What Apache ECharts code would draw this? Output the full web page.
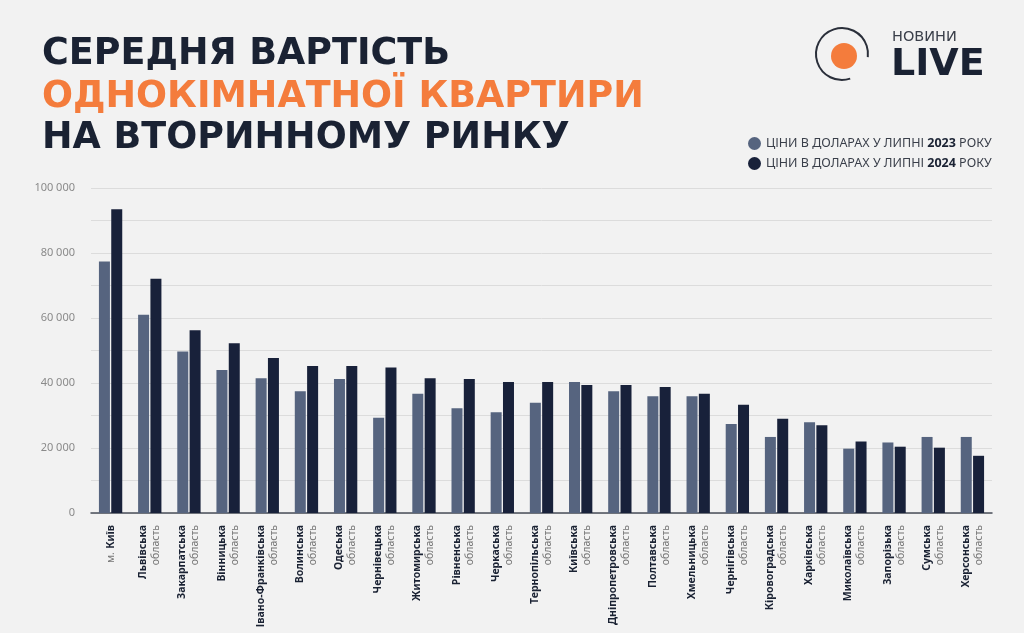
<!DOCTYPE html>
<html>
<head>
<meta charset="utf-8">
<script src="https://cdn.jsdelivr.net/npm/echarts@6/dist/echarts.min.js"></script>
<style>
    html, body { margin: 0; padding: 0; background: #f2f2f2; }
    #chart { width: 1024px; height: 633px; }
</style>
</head>
<body>
<div id="chart"></div>
<script>
// Дані
const regions = [
    'м. Київ', 'Львівська область', 'Закарпатська область', 'Вінницька область',
    'Івано-Франківська область', 'Волинська область', 'Одеська область', 'Чернівецька область',
    'Житомирська область', 'Рівненська область', 'Черкаська область', 'Тернопільська область',
    'Київська область', 'Дніпропетровська область', 'Полтавська область', 'Хмельницька область',
    'Чернігівська область', 'Кіровоградська область', 'Харківська область', 'Миколаївська область',
    'Запорізька область', 'Сумська область', 'Херсонська область'
];
const prices2023 = [77400, 61000, 49700, 44000, 41500, 37500, 41200, 29300, 36700, 32200, 31000, 33900,
    40300, 37500, 35900, 35900, 27400, 23400, 27900, 19800, 21700, 23400, 23400];
const prices2024 = [93500, 72100, 56200, 52200, 47700, 45200, 45200, 44800, 41500, 41200, 40300, 40300,
    39400, 39400, 38800, 36700, 33300, 29000, 27000, 22000, 20400, 20100, 17600];
const yTicks = [0, 20000, 40000, 60000, 80000, 100000];
const name2023 = 'ЦІНИ В ДОЛАРАХ У ЛИПНІ 2023 РОКУ';
const name2024 = 'ЦІНИ В ДОЛАРАХ У ЛИПНІ 2024 РОКУ';

const dark = '#1a2233';
const titleFont = 'DejaVu Sans';

let chart = echarts.init(document.getElementById('chart'));
let option = {
    backgroundColor: '#f2f2f2',
    title: [
        { text: 'СЕРЕДНЯ ВАРТІСТЬ', left: 37, top: 31,
          textStyle: { fontFamily: titleFont, fontWeight: 'bold', fontSize: 36.5, color: dark } },
        { text: 'ОДНОКІМНАТНОЇ КВАРТИРИ', left: 37, top: 74,
          textStyle: { fontFamily: titleFont, fontWeight: 'bold', fontSize: 36.5, color: '#f47c3c' } },
        { text: 'НА ВТОРИННОМУ РИНКУ', left: 37, top: 115,
          textStyle: { fontFamily: titleFont, fontWeight: 'bold', fontSize: 36.5, color: dark } }
    ],
    legend: {
        orient: 'vertical',
        left: 743,
        top: 132,
        icon: 'circle',
        itemWidth: 13,
        itemHeight: 13,
        itemGap: 7,
        data: [name2023, name2024],
        formatter: name => name.replace(/(\d{4})/, '{b|$1}'),
        textStyle: {
            fontFamily: 'Noto Sans', fontSize: 12.5, color: '#3a3f4a',
            rich: { b: { fontFamily: 'Noto Sans', fontSize: 12.5, fontWeight: 'bold', color: dark } }
        }
    },
    grid: { left: 91, right: 32, top: 188, bottom: 120 },
    xAxis: {
        type: 'category',
        data: regions,
        axisLine: { lineStyle: { color: '#4a4f5a', width: 1.5 } },
        axisTick: { show: false },
        axisLabel: {
            interval: 0,
            rotate: 90,
            margin: 12,
            formatter: function (value) {
                let parts = value.split(' ');
                if (parts[0] == 'м.') return '{r|м.} {b|' + parts[1] + '}';
                return '{b|' + parts[0] + '}\n{r|' + parts[1] + '}';
            },
            rich: {
                b: { fontFamily: 'Noto Sans', fontSize: 10.5, fontWeight: 'bold', color: dark, lineHeight: 13 },
                r: { fontFamily: 'Noto Sans', fontSize: 10.5, color: '#777', lineHeight: 13 }
            }
        }
    },
    yAxis: {
        type: 'value',
        min: 0,
        max: 100000,
        interval: 10000,
        axisLine: { show: false },
        axisTick: { show: false },
        splitLine: { lineStyle: { color: '#dcdcdc', width: 1 } },
        axisLabel: {
            margin: 16,
            fontFamily: 'Noto Sans',
            fontSize: 11,
            color: '#8a8a8a',
            formatter: function (v) {
                if (yTicks.indexOf(v) < 0) return '';
                return String(v).replace(/\B(?=(\d{3})+(?!\d))/g, ' ');
            }
        }
    },
    series: [
        {
            name: name2023, type: 'bar', data: prices2023,
            barWidth: 11, barGap: '12%',
            itemStyle: { color: '#56647f' }
        },
        {
            name: name2024, type: 'bar', data: prices2024,
            barWidth: 11,
            itemStyle: { color: '#18213a' }
        }
    ],
    // логотип
    graphic: [
        { type: 'arc', shape: { cx: 842, cy: 54, r: 26, startAngle: 1.25, endAngle: Math.PI * 2 + 0.12 },
          style: { stroke: '#2a2f3a', lineWidth: 2, fill: null } },
        { type: 'circle', shape: { cx: 844, cy: 56, r: 13 }, style: { fill: '#f47c3c' } },
        { type: 'text', left: 892, top: 30,
          style: { text: 'НОВИНИ', font: '14.5px "DejaVu Sans"', fill: '#3a3f4a' } },
        { type: 'text', left: 891, top: 46,
          style: { text: 'LIVE', font: 'bold 38px "DejaVu Sans"', fill: dark } }
    ]
};
chart.setOption(option);
</script>
</body>
</html>
